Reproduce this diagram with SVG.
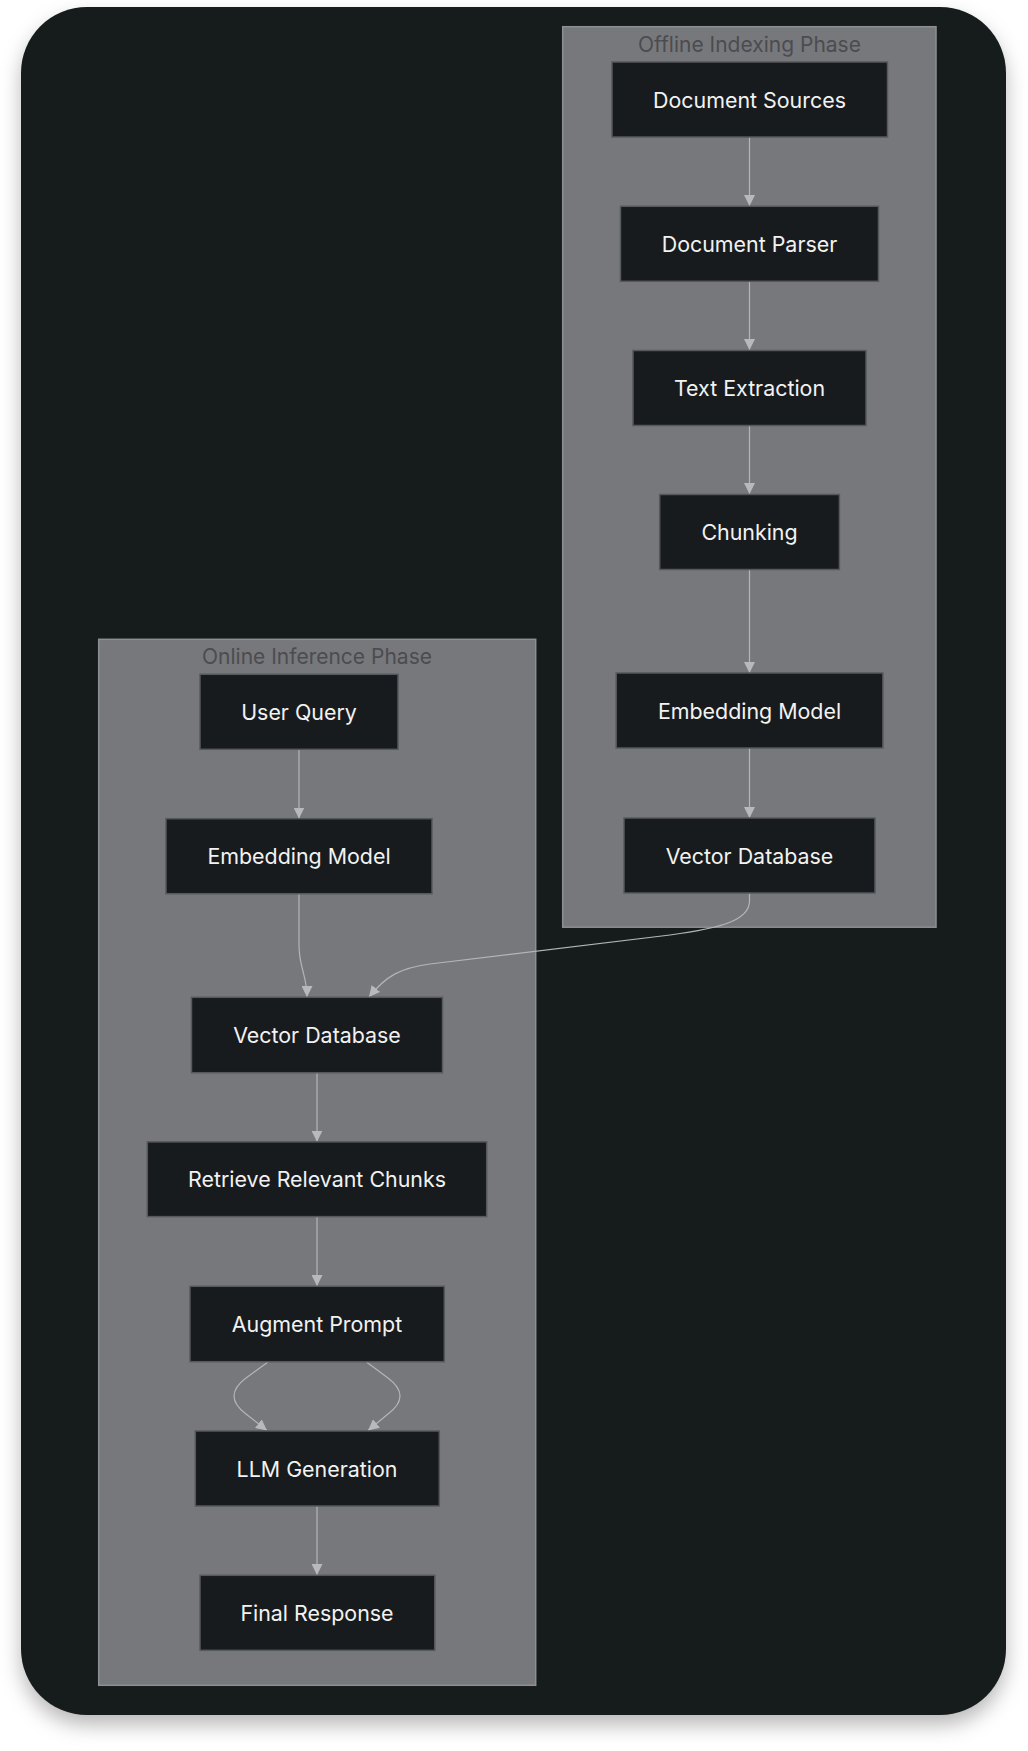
<svg xmlns="http://www.w3.org/2000/svg" width="1028" height="1751" viewBox="0 0 1028 1751">
<defs>
<filter id="sh" x="-10%" y="-10%" width="120%" height="120%">
<feDropShadow dx="0" dy="10" stdDeviation="10" flood-color="#000" flood-opacity="0.28"/>
</filter>
<marker id="arr" viewBox="0 0 10 10" refX="10" refY="5" markerWidth="11" markerHeight="11" markerUnits="userSpaceOnUse" orient="auto">
<path d="M0,0 L10,5 L0,10 z" fill="#b8b9bc"/>
</marker>
<style>
.cl{fill:#77787c;stroke:#8e8f93;stroke-width:1.5}
.ct{font-family:Inter,"Liberation Sans",sans-serif;font-size:21px;fill:#4b4c4f;text-anchor:middle}
.nd rect{fill:#181b1d;stroke:#55585c;stroke-width:1.5}
.nd text{font-family:Inter,"Liberation Sans",sans-serif;font-size:21.4px;fill:#f2f2f2;text-anchor:middle;dominant-baseline:central}
.e{fill:none;stroke:#b4b5b8;stroke-width:1.2;marker-end:url(#arr)}
</style>
</defs>
<rect width="1028" height="1751" fill="#ffffff"/>
<rect x="21" y="7" width="985" height="1708" rx="66" fill="#181b1d" filter="url(#sh)"/>

<g id="cluster-offline">
<rect class="cl" x="562.7" y="26.7" width="373.3" height="900.5"/>
<text class="ct" x="749.5" y="52">Offline Indexing Phase</text>
</g>
<g id="cluster-online">
<rect class="cl" x="98.7" y="639.3" width="437" height="1046"/>
<text class="ct" x="317" y="664">Online Inference Phase</text>
</g>

<g id="edges">
<path class="e" d="M749.5,137 L749.5,206"/>
<path class="e" d="M749.5,281 L749.5,350"/>
<path class="e" d="M749.5,425 L749.5,494"/>
<path class="e" d="M749.5,569 L749.5,673"/>
<path class="e" d="M749.5,748 L749.5,818"/>
<path class="e" d="M299,749 L299,818.5"/>
<path class="e" d="M299,893.5 L299,945 C299,968 307,975 307,997"/>
<path class="e" d="M749.5,893 L749.5,901 C749.5,920 722,928 670,935 L430,964 C400,968 386,976 369,997"/>
<path class="e" d="M317,1072.7 L317,1141.8"/>
<path class="e" d="M317,1216.6 L317,1286"/>
<path class="e" d="M268,1362 L246,1378 C230,1390 230,1402 246,1414 L267,1430.5"/>
<path class="e" d="M366.5,1362 L388,1378 C404,1390 404,1402 388,1414 L368,1430.5"/>
<path class="e" d="M317,1506 L317,1575"/>
</g>

<g id="n-docsrc" class="nd"><rect x="612" y="62" width="275.5" height="75"/><text x="749.5" y="99.5">Document Sources</text></g>
<g id="n-parser" class="nd"><rect x="620.5" y="206.3" width="258" height="75"/><text x="749.5" y="243.8">Document Parser</text></g>
<g id="n-extract" class="nd"><rect x="633" y="350.5" width="233" height="75"/><text x="749.5" y="388">Text Extraction</text></g>
<g id="n-chunk" class="nd"><rect x="659.7" y="494.5" width="179.7" height="75"/><text x="749.5" y="532">Chunking</text></g>
<g id="n-embed-off" class="nd"><rect x="616.2" y="673" width="266.7" height="75"/><text x="749.5" y="710.5">Embedding Model</text></g>
<g id="n-vdb-off" class="nd"><rect x="624" y="818" width="251" height="75"/><text x="749.5" y="855.5">Vector Database</text></g>

<g id="n-query" class="nd"><rect x="200" y="674.3" width="198" height="75"/><text x="299" y="711.8">User Query</text></g>
<g id="n-embed-on" class="nd"><rect x="166" y="818.7" width="266" height="75"/><text x="299" y="856.2">Embedding Model</text></g>
<g id="n-vdb-on" class="nd"><rect x="191.5" y="997.3" width="251" height="75.4"/><text x="317" y="1035">Vector Database</text></g>
<g id="n-retrieve" class="nd"><rect x="147.3" y="1141.9" width="339.4" height="74.7"/><text x="317" y="1179.2">Retrieve Relevant Chunks</text></g>
<g id="n-augment" class="nd"><rect x="190" y="1286.3" width="254.3" height="75.4"/><text x="317" y="1324">Augment Prompt</text></g>
<g id="n-llm" class="nd"><rect x="195.3" y="1431" width="244" height="75"/><text x="317" y="1468.5">LLM Generation</text></g>
<g id="n-final" class="nd"><rect x="200" y="1575.3" width="234.8" height="75"/><text x="317" y="1612.8">Final Response</text></g>
</svg>
